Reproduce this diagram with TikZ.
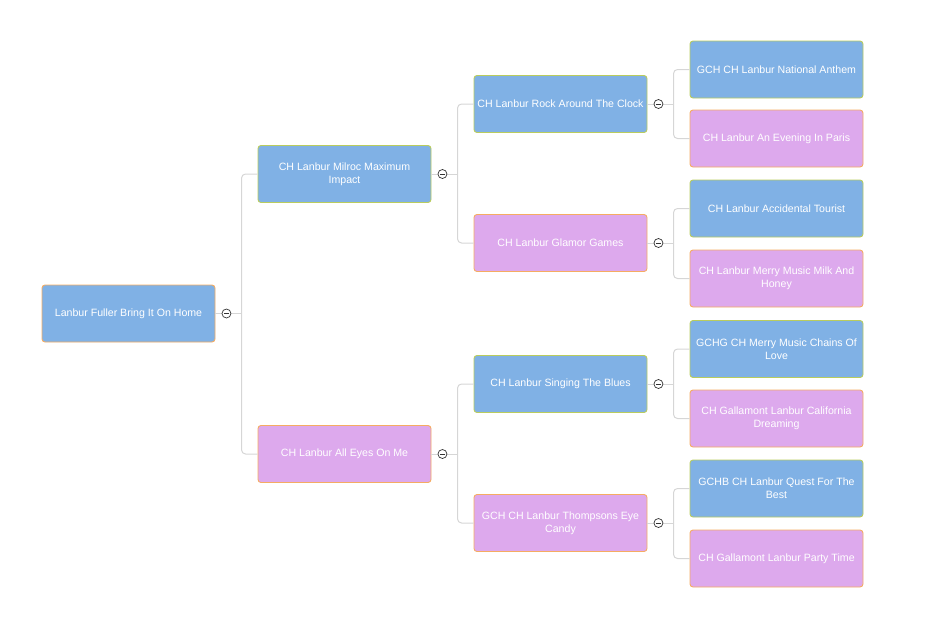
\documentclass[tikz,border=0pt]{standalone}
\usepackage{fontspec}
\setmainfont{Liberation Sans}
\usetikzlibrary{positioning, calc}
\definecolor{NodeBlue}{HTML}{80B1E5}
\definecolor{NodePink}{HTML}{DDA9ED}
\definecolor{EdgeGreen}{HTML}{B9CC5E}
\definecolor{EdgeOrange}{HTML}{F5AC62}
\definecolor{LinkGrey}{HTML}{D6D6D6}

\begin{document}
\begin{tikzpicture}[x=1pt, y=-1pt,
  card/.style={rounded corners=3pt, line width=0.9pt, minimum width=173pt,
    minimum height=57pt, align=center, text=white, inner sep=2pt,
    font=\fontsize{10.6}{13}\selectfont},
  bluecard/.style={card, fill=NodeBlue, draw=EdgeGreen},
  pinkcard/.style={card, fill=NodePink, draw=EdgeOrange},
  link/.style={draw=LinkGrey, line width=1pt, rounded corners=4pt},
  toggle/.style={circle, draw=black!80, fill=white, line width=0.7pt,
    minimum size=9pt, inner sep=0pt,
    path picture={\draw[line width=0.7pt]
      ([xshift=-2.4pt]path picture bounding box.center) --
      ([xshift=2.4pt]path picture bounding box.center);}}]
  \useasboundingbox (0,0) rectangle (939,635);

  % Root
  \node[bluecard, draw=EdgeOrange] (fuller) at (128.5,313.5) {Lanbur Fuller Bring It On Home};

  % First generation
  \node[bluecard] (milroc)  at (344.5,174) {CH Lanbur Milroc Maximum\\Impact};
  \node[pinkcard] (alleyes) at (344.5,454) {CH Lanbur All Eyes On Me};

  % Second generation
  \node[bluecard] (rock)      at (560.5,104) {CH Lanbur Rock Around The Clock};
  \node[pinkcard] (glamor)    at (560.5,243) {CH Lanbur Glamor Games};
  \node[bluecard] (blues)     at (560.5,384) {CH Lanbur Singing The Blues};
  \node[pinkcard] (thompsons) at (560.5,523) {GCH CH Lanbur Thompsons Eye\\Candy};

  % Third generation
  \node[bluecard] (anthem)     at (776.5,69.5)  {GCH CH Lanbur National Anthem};
  \node[pinkcard] (paris)      at (776.5,138.5) {CH Lanbur An Evening In Paris};
  \node[bluecard] (tourist)    at (776.5,208.5) {CH Lanbur Accidental Tourist};
  \node[pinkcard] (honey)      at (776.5,278.5) {CH Lanbur Merry Music Milk And\\Honey};
  \node[bluecard] (chains)     at (776.5,349)   {GCHG CH Merry Music Chains Of\\Love};
  \node[pinkcard] (california) at (776.5,418.5) {CH Gallamont Lanbur California\\Dreaming};
  \node[bluecard] (quest)      at (776.5,488.5) {GCHB CH Lanbur Quest For The\\Best};
  \node[pinkcard] (party)      at (776.5,558.5) {CH Gallamont Lanbur Party Time};

  % Links and collapse toggles
  \foreach \p/\a/\b in {fuller/milroc/alleyes, milroc/rock/glamor,
      alleyes/blues/thompsons, rock/anthem/paris, glamor/tourist/honey,
      blues/chains/california, thompsons/quest/party} {
    \coordinate (\p-j) at ([xshift=-16pt]\a.west);
    \draw[link] (\p.east) -- (\p.east -| \p-j);
    \draw[link] (\a.west) -- (\p-j) |- (\b.west);
    \node[toggle] (\p-t) at ([xshift=11pt]\p.east) {};
  }
\end{tikzpicture}
\end{document}
